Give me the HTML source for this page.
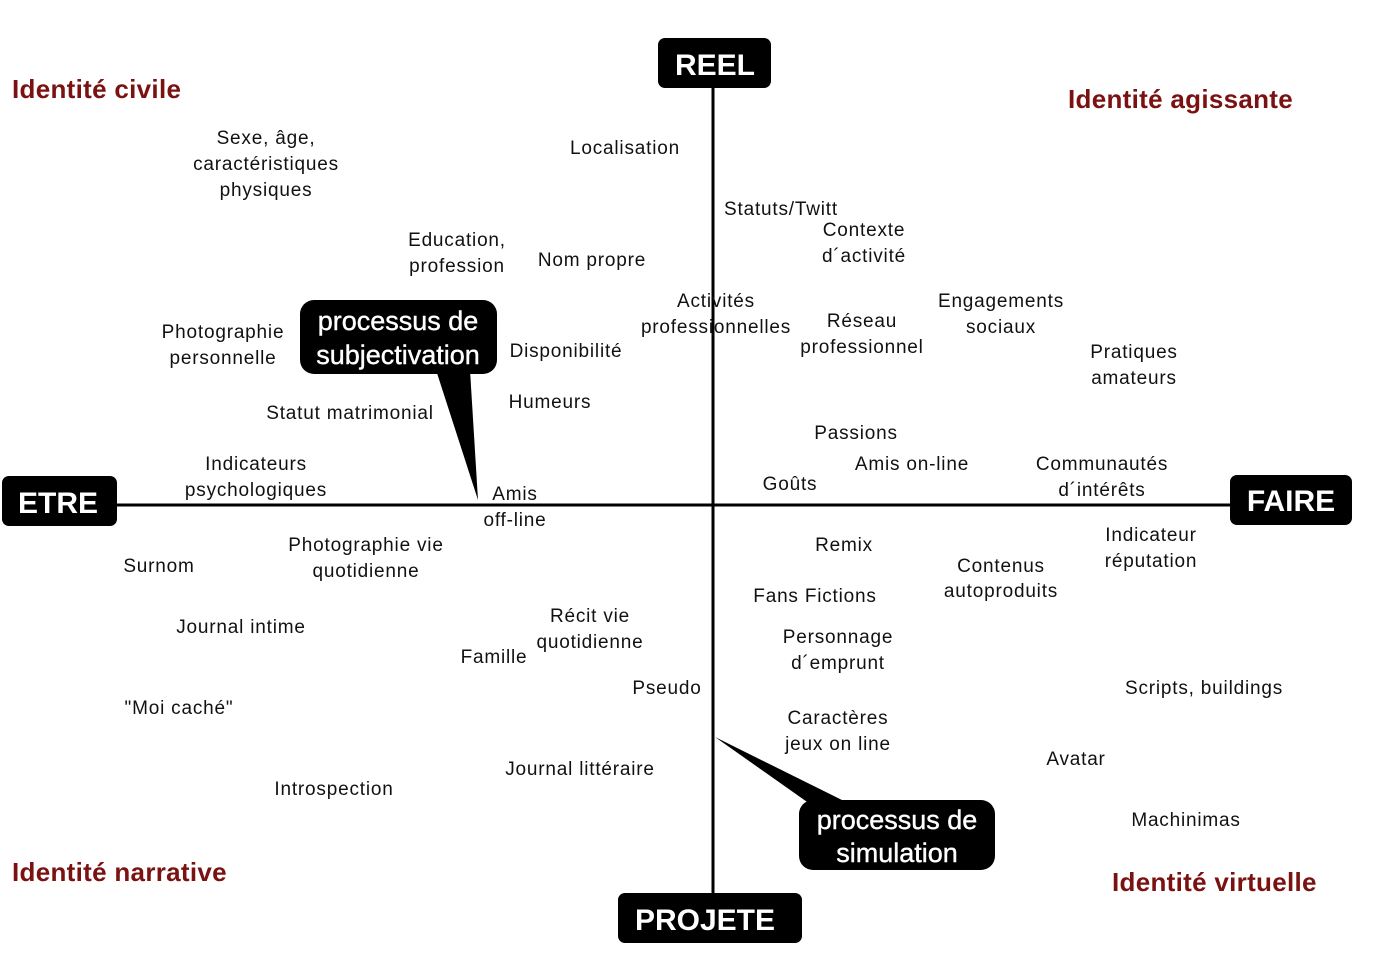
<!DOCTYPE html>
<html><head><meta charset="utf-8"><style>
html,body{margin:0;padding:0;background:#fff;}
svg{display:block;}
.t{font-family:"Liberation Sans",sans-serif;font-size:19px;letter-spacing:0.8px;fill:#111;text-anchor:middle;}
.h{font-family:"Liberation Sans",sans-serif;font-size:26px;font-weight:bold;fill:#7a1212;letter-spacing:0.3px;}
.b{font-family:"Liberation Sans",sans-serif;font-size:30px;font-weight:bold;fill:#fff;text-anchor:middle;}
.c{font-family:"Liberation Sans",sans-serif;font-size:27px;fill:#fff;text-anchor:middle;stroke:#fff;stroke-width:0.4px;}
</style></head><body>
<svg width="1397" height="968" viewBox="0 0 1397 968">
<line x1="713" y1="60" x2="713" y2="910" stroke="#000" stroke-width="3"/>
<line x1="60" y1="505" x2="1290" y2="505" stroke="#000" stroke-width="3"/>
<rect x="658" y="38" width="113" height="50" rx="7" fill="#000"/>
<text class="b" x="715" y="75">REEL</text>
<rect x="2" y="476" width="115" height="50" rx="7" fill="#000"/>
<text class="b" x="58" y="513">ETRE</text>
<rect x="1230" y="475" width="122" height="50" rx="7" fill="#000"/>
<text class="b" x="1291" y="511">FAIRE</text>
<rect x="618" y="893" width="184" height="50" rx="7" fill="#000"/>
<text class="b" x="705" y="930">PROJETE</text>
<!-- callout 1 -->
<rect x="300" y="300" width="197" height="74" rx="14" fill="#000"/>
<polygon points="436,370 470,370 478,500" fill="#000"/>
<text class="c" x="398" y="330">processus de</text>
<text class="c" x="398" y="364">subjectivation</text>
<!-- callout 2 -->
<rect x="799" y="800" width="196" height="70" rx="14" fill="#000"/>
<polygon points="715,737 810,804 850,804" fill="#000"/>
<text class="c" x="897" y="829">processus de</text>
<text class="c" x="897" y="862">simulation</text>
<text class="h" x="12" y="98">Identité civile</text>
<text class="h" x="1068" y="108">Identité agissante</text>
<text class="h" x="12" y="881">Identité narrative</text>
<text class="h" x="1112" y="891">Identité virtuelle</text>
<g class="t">
<text class="t" x="266" y="144">Sexe, âge,</text><text class="t" x="266" y="170">caractéristiques</text><text class="t" x="266" y="196">physiques</text>
<text class="t" x="625" y="154">Localisation</text>
<text class="t" x="781" y="215">Statuts/Twitt</text>
<text class="t" x="864" y="236">Contexte</text><text class="t" x="864" y="262">d´activité</text>
<text class="t" x="457" y="246">Education,</text><text class="t" x="457" y="272">profession</text>
<text class="t" x="592" y="266">Nom propre</text>
<text class="t" x="716" y="307">Activités</text><text class="t" x="716" y="333">professionnelles</text>
<text class="t" x="1001" y="307">Engagements</text><text class="t" x="1001" y="333">sociaux</text>
<text class="t" x="862" y="327">Réseau</text><text class="t" x="862" y="353">professionnel</text>
<text class="t" x="223" y="338">Photographie</text><text class="t" x="223" y="364">personnelle</text>
<text class="t" x="566" y="357">Disponibilité</text>
<text class="t" x="1134" y="358">Pratiques</text><text class="t" x="1134" y="384">amateurs</text>
<text class="t" x="550" y="408">Humeurs</text>
<text class="t" x="350" y="419">Statut matrimonial</text>
<text class="t" x="856" y="439">Passions</text>
<text class="t" x="256" y="470">Indicateurs</text><text class="t" x="256" y="496">psychologiques</text>
<text class="t" x="912" y="470">Amis on-line</text>
<text class="t" x="1102" y="470">Communautés</text><text class="t" x="1102" y="496">d´intérêts</text>
<text class="t" x="790" y="490">Goûts</text>
<text class="t" x="515" y="500">Amis</text><text class="t" x="515" y="526">off-line</text>
<text class="t" x="1151" y="541">Indicateur</text><text class="t" x="1151" y="567">réputation</text>
<text class="t" x="366" y="551">Photographie vie</text><text class="t" x="366" y="577">quotidienne</text>
<text class="t" x="844" y="551">Remix</text>
<text class="t" x="159" y="572">Surnom</text>
<text class="t" x="1001" y="572">Contenus</text><text class="t" x="1001" y="597">autoproduits</text>
<text class="t" x="815" y="602">Fans Fictions</text>
<text class="t" x="590" y="622">Récit vie</text><text class="t" x="590" y="648">quotidienne</text>
<text class="t" x="241" y="633">Journal intime</text>
<text class="t" x="838" y="643">Personnage</text><text class="t" x="838" y="669">d´emprunt</text>
<text class="t" x="494" y="663">Famille</text>
<text class="t" x="667" y="694">Pseudo</text>
<text class="t" x="1204" y="694">Scripts, buildings</text>
<text class="t" x="179" y="714">"Moi caché"</text>
<text class="t" x="838" y="724">Caractères</text><text class="t" x="838" y="750">jeux on line</text>
<text class="t" x="1076" y="765">Avatar</text>
<text class="t" x="580" y="775">Journal littéraire</text>
<text class="t" x="334" y="795">Introspection</text>
<text class="t" x="1186" y="826">Machinimas</text>
</g>
</svg>
</body></html>
